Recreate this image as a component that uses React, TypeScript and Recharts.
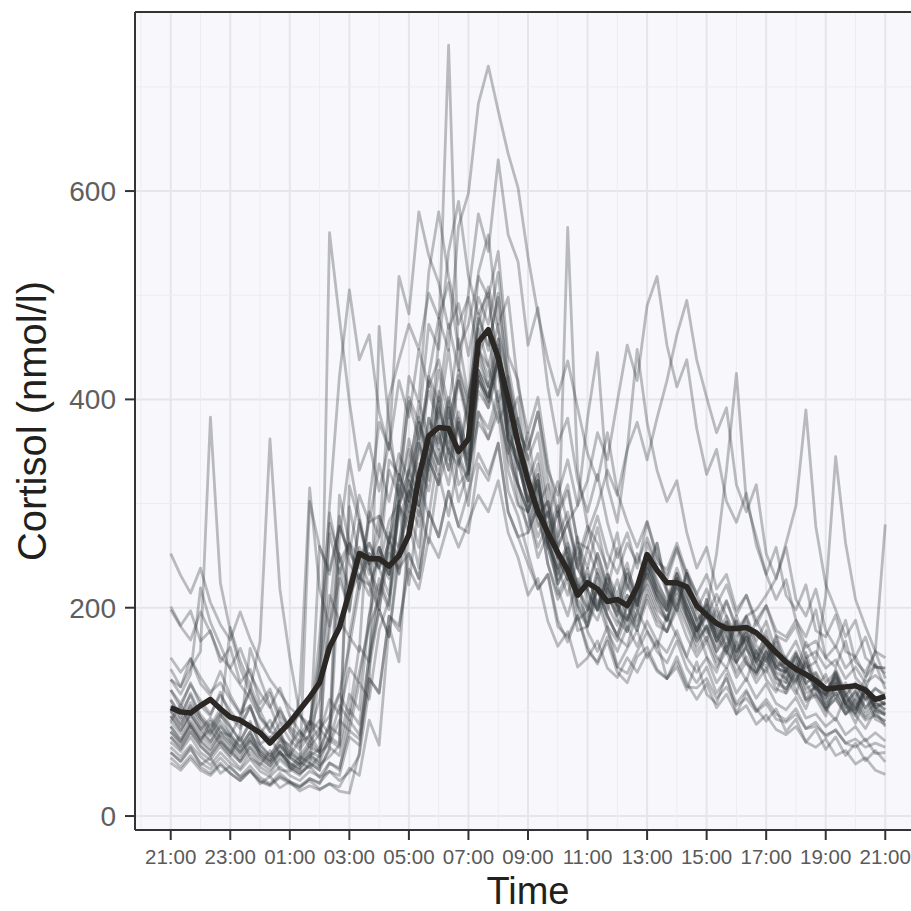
import { LineChart, Line, XAxis, YAxis, CartesianGrid, ReferenceLine } from 'recharts'

// sampling every 20 minutes, 21:00 -> 21:00 next day (hours after 21:00)
const times = Array.from({ length: 73 }, (_, i) => i / 3)

const tickHours = [0, 2, 4, 6, 8, 10, 12, 14, 16, 18, 20, 22, 24]
const tickLabels = ['21:00', '23:00', '01:00', '03:00', '05:00', '07:00', '09:00', '11:00', '13:00', '15:00', '17:00', '19:00', '21:00']
const yTicks = [0, 200, 400, 600]
const yMinor = [100, 300, 500, 700]
const xMinor = [-1, 1, 3, 5, 7, 9, 11, 13, 15, 17, 19, 21, 23, 25]

const meanLine = [
  104, 100, 99, 106, 112, 103, 95, 92, 86, 80, 70, 80,
  90, 102, 114, 128, 162, 181, 215, 252, 247, 247, 240, 250,
  270, 325, 365, 373, 372, 350, 362, 455, 467, 440, 400, 358,
  322, 292, 272, 253, 236, 212, 224, 218, 206, 208, 202, 220,
  251, 236, 224, 224, 220, 202, 193, 185, 180, 180, 181, 176,
  167, 157, 148, 141, 136, 130, 122, 123, 124, 125, 121, 112, 115,
]

// one row per subject: 21:00-00:40 | 01:00-04:40 | 05:00-08:40 | 09:00-12:40 | 13:00-16:40 | 17:00-21:00
const s01 = [252,231,214,238,205,184,169,196,170,149,131,118, 104,96,88,141,212,188,172,228,262,240,283,301, 332,362,408,376,351,336,398,472,508,466,421,377, 343,312,287,321,281,246,278,243,219,257,223,202, 262,238,216,197,236,213,191,178,206,183,164,188, 168,151,139,156,138,122,117,136,116,104,118,104,98]
const s02 = [198,182,169,196,176,153,142,161,136,118,104,123, 96,81,72,84,72,106,92,138,183,208,263,249, 312,348,423,478,447,566,598,684,720,677,636,603, 537,482,438,404,437,392,348,322,368,311,282,258, 283,250,227,256,232,208,192,213,192,173,191,164, 151,173,149,139,157,128,116,141,119,103,121,104,99]
const s03 = [131,124,142,158,383,224,178,142,119,101,118,91, 84,71,77,63,89,117,98,163,148,212,258,233, 338,383,338,392,358,423,378,483,447,502,417,362, 318,283,257,292,248,213,238,197,218,202,177,196, 238,212,188,222,193,171,208,176,158,187,148,136, 158,136,118,146,127,113,96,127,108,89,114,93,88]
const s04 = [96,82,98,83,94,81,77,96,121,168,362,218, 152,98,81,112,178,252,218,281,238,213,268,232, 278,322,288,352,318,373,328,422,398,452,388,352, 298,322,268,232,258,222,198,237,213,192,233,202, 248,227,203,232,193,177,208,182,163,192,166,152, 143,171,141,129,151,119,101,132,106,96,119,96,91]
const s05 = [112,94,118,97,86,103,86,72,91,69,76,59, 58,73,88,152,298,422,505,438,462,388,352,418, 383,448,412,438,393,458,402,452,498,432,378,333, 368,302,263,292,248,217,258,232,198,227,188,213, 238,207,188,227,208,182,203,172,156,187,160,149, 178,147,128,156,137,122,113,134,108,99,122,101,97]
const s06 = [86,72,89,74,83,69,58,76,56,49,63,44, 43,52,46,58,560,478,398,332,358,312,358,322, 398,362,418,382,448,372,338,422,398,442,358,302, 278,312,258,227,248,202,183,222,193,172,163,197, 178,162,193,172,153,182,153,138,166,147,130,159, 131,119,142,121,103,128,103,92,116,97,84,101,86]
const s07 = [61,53,66,49,56,41,48,37,44,31,38,27, 33,24,29,25,31,28,46,39,92,68,182,148, 282,238,342,318,392,348,402,448,412,378,402,318, 292,248,272,218,192,228,177,158,182,143,161,178, 152,168,132,143,121,148,117,108,136,98,119,103, 91,103,81,93,71,83,64,76,58,70,53,63,52]
const s08 = [121,104,128,106,96,119,96,84,106,79,92,74, 68,82,66,79,112,98,142,128,192,258,232,318, 292,378,342,458,740,432,398,522,558,472,498,412, 368,402,338,292,318,262,238,277,233,212,243,202, 238,262,218,202,233,197,176,202,173,154,186,157, 148,167,138,127,152,124,116,137,108,99,123,104,108]
const s09 = [91,107,86,71,91,74,61,79,161,132,106,81, 46,57,51,44,66,58,102,88,152,198,172,258, 292,258,342,398,352,418,382,468,432,398,422,348, 302,338,272,248,565,332,278,262,238,272,218,252, 228,262,213,197,233,187,168,197,158,147,178,147, 138,162,132,117,148,127,108,139,113,102,126,107,108]
const s10 = [141,124,151,127,116,139,116,99,121,94,81,104, 81,67,91,74,196,288,242,228,252,238,212,298, 282,358,322,408,372,428,392,478,452,498,412,368, 352,388,332,308,342,298,322,368,342,398,452,418, 490,518,452,412,438,372,328,352,302,282,310,260, 232,258,212,198,222,178,172,193,158,153,172,143,142]
const s11 = [101,87,106,91,79,94,181,149,126,101,81,77, 66,58,71,61,69,92,82,128,112,178,208,262, 322,298,362,338,392,348,322,438,412,458,362,348, 292,318,272,298,262,238,272,298,332,308,352,378, 342,382,418,462,495,438,402,368,392,318,292,318, 252,228,258,208,192,218,178,162,188,148,138,158,132]
const s12 = [76,64,81,67,58,71,61,52,66,51,44,57, 47,41,49,144,271,233,262,218,252,238,262,328, 302,378,352,402,348,388,342,428,402,438,362,338, 302,268,292,238,212,248,217,198,232,203,182,218, 252,218,198,233,202,178,197,252,332,425,302,268, 232,208,227,188,172,198,152,143,168,133,122,146,122]
const s13 = [106,92,109,94,81,97,86,72,89,69,58,74, 63,54,68,259,236,278,252,238,282,288,262,328, 302,358,332,388,342,378,328,418,392,438,362,318, 292,322,262,238,262,218,198,233,212,193,222,203, 242,218,202,233,212,188,197,168,187,168,192,198, 212,228,262,298,390,278,222,198,172,188,152,143,142]
const s14 = [81,69,86,71,62,77,66,54,71,57,48,61, 51,44,56,47,63,238,196,284,242,198,272,258, 312,288,342,368,332,378,332,408,392,428,352,318, 292,258,282,223,242,203,187,218,192,173,202,178, 217,193,177,208,187,163,182,153,142,167,146,138, 158,143,152,138,167,148,212,345,262,208,182,158,152]
const s15 = [71,62,76,61,54,67,56,46,61,47,41,54, 45,39,51,44,281,248,212,232,212,258,232,298, 272,338,312,368,332,382,348,428,402,438,372,338, 302,328,262,233,252,208,192,228,202,183,212,188, 227,203,187,218,192,168,182,158,172,148,162,138, 152,133,122,138,112,126,104,118,102,113,132,158,280]
const s16 = [56,47,58,47,41,51,41,34,44,33,29,37, 31,27,36,31,51,44,92,78,142,198,172,248, 302,278,342,318,352,302,332,378,362,388,312,288, 252,218,232,188,167,192,162,146,168,138,128,153, 162,141,132,153,128,112,127,104,117,98,106,88, 97,83,78,86,71,66,74,58,63,50,56,44,40]
const s17 = [66,57,68,57,49,61,51,44,55,43,38,47, 39,34,43,38,51,46,82,74,132,118,192,178, 252,228,292,268,312,278,312,348,328,358,292,268, 242,218,232,182,172,193,158,148,172,143,137,158, 177,158,147,168,142,128,143,118,132,108,121,101, 112,98,92,103,84,90,76,83,70,66,74,60,61]
const s18 = [111,98,116,94,84,99,79,67,81,59,52,63, 49,44,302,258,232,278,252,308,282,338,302,348, 322,398,362,428,382,418,372,448,432,472,398,358, 322,348,292,258,282,238,217,252,223,202,237,213, 252,223,207,238,212,188,202,173,192,163,178,156, 172,148,142,158,132,138,122,132,115,126,112,122,117]
const s19 = [96,83,99,84,72,87,73,61,75,59,51,62, 47,41,48,37,43,34,42,58,122,470,378,302, 362,322,382,352,398,342,322,428,412,448,372,338, 312,278,292,248,227,262,212,198,228,197,188,218, 232,208,197,222,198,178,193,168,183,158,172,148, 167,142,138,152,127,137,117,128,108,120,104,114,107]
const s20 = [61,52,64,51,45,56,46,38,48,37,31,41, 33,28,34,26,31,24,22,61,158,222,198,302, 222,298,262,328,288,342,298,388,372,408,332,298, 292,322,258,223,247,198,182,218,192,173,203,183, 212,188,177,203,182,158,172,148,163,138,153,133, 152,128,122,138,112,118,102,113,98,104,92,97,91]
const s21 = [86,74,91,77,68,81,71,61,74,63,54,68, 59,51,62,57,73,66,117,102,192,228,202,308, 352,318,422,398,472,428,502,578,542,630,558,532, 452,488,412,358,382,322,292,328,282,248,272,238, 282,248,232,258,222,198,218,188,207,178,192,168, 187,158,152,168,142,148,128,138,117,128,112,123,114]
const s22 = [121,108,126,111,98,116,101,88,104,84,74,89, 73,64,78,172,291,244,262,248,262,238,342,328, 422,398,522,580,518,472,498,442,468,392,348,382, 322,288,302,253,232,268,217,198,232,203,188,218, 247,213,197,228,202,178,193,168,186,158,172,148, 167,142,138,153,128,134,117,128,108,121,104,114,107]
const s23 = [101,88,104,87,77,91,77,66,81,63,56,68, 56,49,58,52,76,268,342,288,242,268,332,308, 402,378,472,448,542,590,518,482,502,432,378,402, 322,288,302,248,227,258,202,188,218,188,177,208, 222,198,188,213,192,168,183,158,177,148,163,138, 157,132,128,143,118,124,108,118,98,112,96,108,102]
const s24 = [76,66,81,67,58,72,63,52,66,55,48,61, 51,46,58,64,86,78,172,158,302,378,352,518, 482,580,538,512,468,492,442,498,472,522,432,378, 342,368,302,268,292,238,222,252,218,203,232,208, 242,218,202,228,198,173,192,163,182,153,172,143, 162,138,132,148,122,128,113,122,104,118,100,110,102]
const s25 = [51,44,55,44,39,49,41,34,43,34,30,38, 33,29,36,32,43,39,76,68,132,118,192,183, 237,218,267,248,282,258,282,308,292,322,272,248, 212,228,187,163,177,143,152,168,142,133,152,138, 157,139,132,148,124,123,132,113,124,106,113,100, 108,93,90,98,84,86,78,82,70,74,66,70,66]
const s26 = [91,79,96,81,71,86,76,63,78,67,58,71, 61,54,66,61,76,69,317,283,242,258,232,298, 332,308,382,358,402,368,342,448,422,458,378,358, 332,298,318,258,282,298,382,445,318,282,352,448, 378,332,302,322,272,238,258,218,232,198,212,188, 202,173,168,183,152,158,142,150,132,143,128,135,127]
const s27 = [131,117,136,219,186,164,141,126,113,95,84,101, 86,77,91,84,96,118,162,218,292,268,402,438, 472,448,502,478,512,448,472,518,498,542,442,418, 352,388,322,288,312,263,257,288,252,233,262,243, 267,243,237,262,233,213,232,203,222,193,212,183, 202,178,172,188,162,168,152,163,142,153,134,145,137]
const s28 = [152,138,151,133,119,128,112,98,106,78,72,83, 56,49,61,49,57,68,297,248,222,198,252,238, 252,228,292,268,312,278,272,338,322,358,292,268, 272,298,242,208,227,178,182,208,177,158,182,163, 187,168,157,178,152,138,152,128,142,118,132,113, 127,108,102,114,94,98,86,94,78,86,72,80,72]
const s29 = [81,71,87,73,64,79,69,58,72,61,53,67, 56,118,315,218,182,228,198,258,232,288,262,298, 322,298,362,338,372,318,332,388,362,398,342,318, 272,298,242,213,232,188,197,218,182,168,193,178, 207,183,177,198,172,153,168,143,158,133,148,128, 142,122,118,132,110,116,104,112,98,108,94,102,97]
const s30 = [201,183,197,168,178,148,162,128,141,108,122,96, 86,98,79,92,78,308,262,228,222,248,228,288, 312,298,352,328,382,338,362,418,402,438,362,338, 302,328,262,238,257,218,232,203,222,198,212,198, 232,212,198,222,202,178,197,172,186,158,176,152, 167,143,147,131,146,122,136,113,128,108,122,104,110]

const subjects = [s01, s02, s03, s04, s05, s06, s07, s08, s09, s10, s11, s12, s13, s14, s15,
  s16, s17, s18, s19, s20, s21, s22, s23, s24, s25, s26, s27, s28, s29, s30]

const rows = times.map((t, i) => {
  const r: Record<string, number> = { t, mean: meanLine[i] }
  subjects.forEach((s, k) => { r['s' + k] = s[i] })
  return r
})

const Y_MIN = -13.4
const Y_MAX = 771.9

export default function App() {
  return (
    <div style={{ position: 'fixed', left: 0, top: 0, width: 911, height: 911, overflow: 'hidden', background: '#fff', fontFamily: '"Liberation Sans", Arial, sans-serif' }}>
      <LineChart width={921} height={911} data={rows} margin={{ top: 12, right: 0, bottom: 0, left: 0 }}>
        <CartesianGrid fill="#f8f8fc" stroke="#e6e6ea" strokeWidth={2} horizontalValues={yTicks} verticalValues={tickHours} />
        <CartesianGrid stroke="#ededf0" strokeWidth={1} horizontalValues={yMinor} verticalValues={xMinor} />
        <XAxis
          dataKey="t"
          type="number"
          domain={[-1.2, 25.2]}
          allowDataOverflow
          ticks={tickHours}
          interval={0}
          tickFormatter={(v: number) => tickLabels[tickHours.indexOf(v)] ?? ''}
          height={81}
          tickSize={10}
          tickMargin={9}
          axisLine={{ stroke: '#333', strokeWidth: 2 }}
          tickLine={{ stroke: '#333', strokeWidth: 2 }}
          tick={{ fill: '#5a5a5a', fontSize: 20.5 }}
          label={{ value: 'Time', position: 'insideBottom', offset: 7, fill: '#221f1c', fontSize: 38 }}
        />
        <YAxis
          type="number"
          domain={[Y_MIN, Y_MAX]}
          allowDataOverflow
          ticks={yTicks}
          interval={0}
          width={135}
          tickSize={10}
          tickMargin={9}
          axisLine={{ stroke: '#333', strokeWidth: 2 }}
          tickLine={{ stroke: '#333', strokeWidth: 2 }}
          tick={{ fill: '#5e5e5e', fontSize: 28 }}
          label={{ value: 'Cortisol (nmol/l)', angle: -90, position: 'insideLeft', offset: 32, fill: '#221f1c', fontSize: 40, style: { textAnchor: 'middle' } }}
        />
        <ReferenceLine y={Y_MAX} stroke="#333" strokeWidth={2} />
        {subjects.map((_, k) => (
          <Line
            key={k}
            type="linear"
            dataKey={'s' + k}
            stroke="#33373a"
            strokeOpacity={0.32}
            strokeWidth={2.8}
            strokeLinejoin="round"
            dot={false}
            activeDot={false}
            isAnimationActive={false}
          />
        ))}
        <Line
          type="linear"
          dataKey="mean"
          stroke="#2b2724"
          strokeWidth={5.5}
          strokeLinejoin="round"
          dot={false}
          activeDot={false}
          isAnimationActive={false}
        />
      </LineChart>
    </div>
  )
}
